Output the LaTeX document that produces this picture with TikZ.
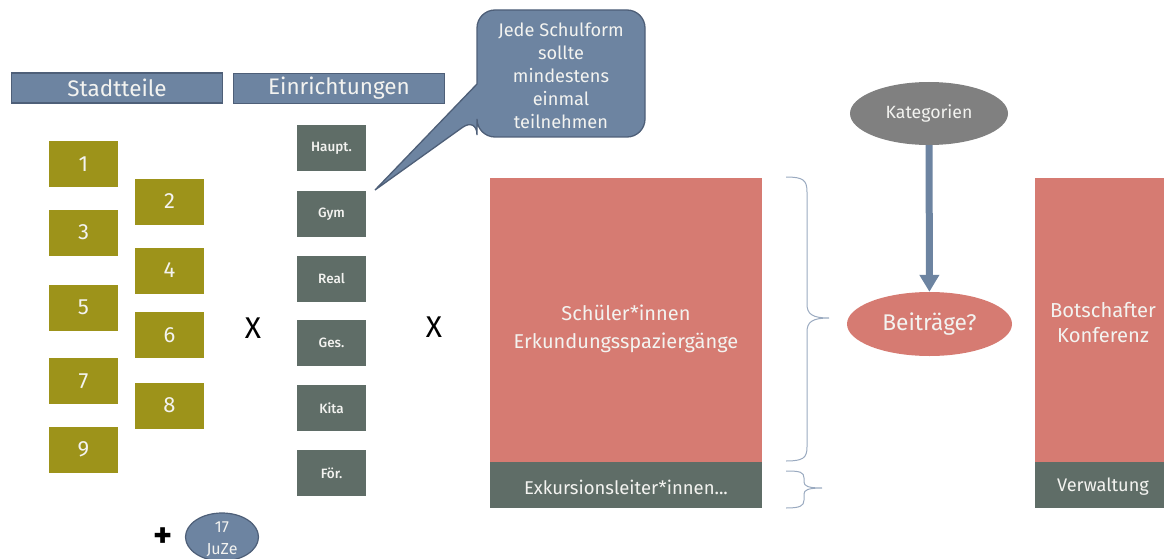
\documentclass[tikz,border=0pt]{standalone}
\usepackage{fontspec}
\setmainfont{Fira Sans}
\newfontfamily\medfont{Fira Sans}[UprightFont={* Medium}]
\usetikzlibrary{arrows.meta,shapes.geometric}
\definecolor{hdr}{HTML}{6D84A1}
\definecolor{hdrline}{HTML}{4E5F78}
\definecolor{olivebox}{HTML}{9D931A}
\definecolor{slate}{HTML}{5F6D67}
\definecolor{salmon}{HTML}{D67B72}
\definecolor{katgray}{HTML}{808080}
\definecolor{bracecol}{HTML}{9AAAC0}
\definecolor{lighttext}{HTML}{F3F3F0}
\begin{document}
\begin{tikzpicture}[x=1pt,y=-1pt,
  header/.style={draw=hdrline,line width=1.5pt,fill=hdr,minimum width=211pt,minimum height=30pt,inner sep=0pt,text=lighttext,font=\fontsize{22.5}{24}\selectfont},
  numbox/.style={fill=olivebox,minimum width=69pt,minimum height=46pt,inner sep=0pt,text=lighttext,font=\fontsize{22}{24}\selectfont},
  schoolbox/.style={fill=slate,minimum width=69pt,minimum height=46pt,inner sep=0pt,text=lighttext,font=\medfont\fontsize{13.5}{16}\selectfont},
  lbl/.style={text=lighttext,align=center,inner sep=0pt},
  times/.style={font=\fontsize{30}{32}\selectfont,text=black},
  bracepath/.style={draw=bracecol,line width=1pt},
  arr/.style={draw=hdr,line width=7pt,-{Triangle[width=19pt,length=17pt]}},
]
\useasboundingbox (0,0) rectangle (1164,559);

% headers
\node[header] (hst) at (117,88) {Stadtteile};
\node[header] (hein) at (339,88.5) {Einrichtungen};

% callout
\draw[draw=hdrline,line width=1.3pt,fill=hdr,rounded corners=18pt]
  (477,60) -- (477,10) -- (645,10) -- (645,137) -- (477,137) -- (477,117)
  [sharp corners] -- (375,190) -- (477,84) -- cycle;
\node[lbl,font=\fontsize{18.2}{23}\selectfont] (call) at (561,76) {Jede Schulform\\sollte\\mindestens\\einmal\\teilnehmen};

% district boxes
\node[numbox] (d1) at (83.5,164) {1};
\node[numbox] (d2) at (169.5,201.5) {2};
\node[numbox] (d3) at (83.5,232.5) {3};
\node[numbox] (d4) at (169.5,270.5) {4};
\node[numbox] (d5) at (83.5,307.5) {5};
\node[numbox] (d6) at (169.5,335) {6};
\node[numbox] (d7) at (83.5,381) {7};
\node[numbox] (d8) at (169.5,405.5) {8};
\node[numbox] (d9) at (83.5,449.5) {9};

% school types
\node[schoolbox] (s1) at (331.5,148) {Haupt.};
\node[schoolbox] (s2) at (331.5,214) {Gym};
\node[schoolbox] (s3) at (331.5,278.5) {Real};
\node[schoolbox] (s4) at (331.5,343) {Ges.};
\node[schoolbox] (s5) at (331.5,408) {Kita};
\node[schoolbox] (s6) at (331.5,473) {För.};

% multiplication signs
\node[times] (x1) at (253,328) {X};
\node[times] (x2) at (434,327) {X};

% plus JuZe
\node[font=\fontsize{36}{38}\selectfont\bfseries,text=black] (plus) at (163,538) {+};
\node[ellipse,draw=hdrline,line width=1.2pt,fill=hdr,minimum width=73pt,minimum height=48pt,inner sep=0pt] (juze) at (222,537) {};
\node[lbl,font=\fontsize{16}{22}\selectfont] (juzet) at (222,539) {17\\JuZe};

% left big box
\fill[salmon] (490,178) rectangle (762,462);
\fill[slate] (490,462) rectangle (762,508);
\node[lbl,font=\fontsize{20}{28}\selectfont] (schuel) at (626,329) {Schüler*innen\\Erkundungsspaziergänge};
\node[lbl,font=\fontsize{18.5}{20}\selectfont] (exk) at (626,487) {Exkursionsleiter*innen...};

% braces
\draw[bracepath] (786,177) .. controls (803,177) and (807,180) .. (807,192) -- (807,304)
  .. controls (807,314) and (812,318) .. (829,318)
  .. controls (812,318) and (807,322) .. (807,332) -- (807,447)
  .. controls (807,458) and (803,461) .. (786,461);
\draw[bracepath] (786,471) .. controls (800,471) and (804,472) .. (804,478) -- (804,482)
  .. controls (804,486) and (808,488) .. (822,488)
  .. controls (808,488) and (804,490) .. (804,494) -- (804,500)
  .. controls (804,506) and (800,508) .. (786,508);

% right side
\node[ellipse,fill=katgray,minimum width=158pt,minimum height=63pt,inner sep=0pt,text=lighttext,font=\fontsize{17.7}{20}\selectfont] (kat) at (929,113.5) {Kategorien};
\node[ellipse,fill=salmon,minimum width=165pt,minimum height=64pt,inner sep=0pt,text=lighttext,font=\fontsize{22.7}{24}\selectfont] (bei) at (929.5,324) {Beiträge?};
\draw[arr] (kat) -- (bei);

\fill[salmon] (1035,178) rectangle (1164,462);
\fill[slate] (1035,462) rectangle (1164,508);
\node[lbl,font=\fontsize{20.2}{25}\selectfont] (bot) at (1103,323) {Botschafter\\Konferenz};
\node[lbl,font=\fontsize{18.2}{20}\selectfont] (verw) at (1103,487) {Verwaltung};
\end{tikzpicture}
\end{document}
